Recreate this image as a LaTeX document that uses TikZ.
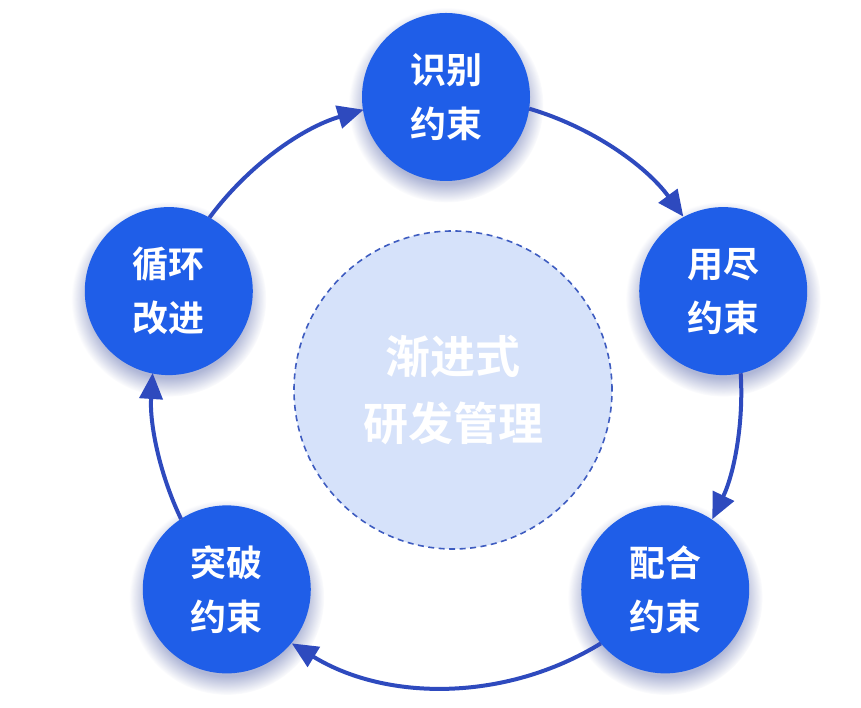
\documentclass[tikz,border=0pt]{standalone}
\usepackage{fontspec}
\setmainfont{Noto Sans CJK SC}[BoldFont={Noto Sans CJK SC Bold}]
\usepackage{tikz}
\usetikzlibrary{arrows.meta, positioning, shadows, fadings}
\definecolor{stageblue}{RGB}{31,94,232}
\definecolor{arrowblue}{RGB}{46,74,190}
\definecolor{corefill}{RGB}{214,226,250}
\definecolor{coreline}{RGB}{62,92,192}
\tikzset{
  stage/.style={
    circle,
    fill=stageblue,
    minimum size=168pt,
    inner sep=0pt,
    outer sep=0pt,
    align=center,
    text=white,
    font=\fontsize{36}{54}\selectfont\bfseries,
    general shadow={shadow scale=1.16, shadow yshift=-7pt,
      fill=arrowblue!60!gray, opacity=0.45,
      path fading=circle with fuzzy edge 20 percent},
  },
  core/.style={
    circle,
    fill=corefill,
    draw=coreline,
    dash pattern=on 6pt off 4.5pt,
    line width=1.6pt,
    minimum size=318pt,
    inner sep=0pt,
    align=center,
    text=white,
    font=\fontsize{45}{67}\selectfont\bfseries,
  },
  arrow/.style={
    -{Triangle[length=26pt,width=23pt]},
    line width=4pt,
    draw=arrowblue
  }
}

\begin{document}
\begin{tikzpicture}[x=1pt,y=1pt]
\useasboundingbox (0,0) rectangle (861,708);
\coordinate (ring) at (446,316);

% --- Cercle central ---
\node[core] (core) at (453,318) {渐进式\\研发管理};

% --- Les cinq etapes (sur l'anneau, rayon 295) ---
\path (ring) ++(90:295)  node[stage] (identify) {识别\\约束};
\path (ring) ++(20:295)  node[stage] (exploit)  {用尽\\约束};
\path (ring) ++(-42:295) node[stage] (subord)   {配合\\约束};
\path (ring) ++(222:295) node[stage] (elevate)  {突破\\约束};
\path (ring) ++(160:295) node[stage] (repeat)   {循环\\改进};

% --- Fleches sur l'anneau ---
\draw[arrow] (identify.-8.2)   arc[start angle=73.6,  end angle=36.4,   radius=295];
\draw[arrow] (exploit.-78.2)   arc[start angle=3.6,   end angle=-25.6,  radius=295];
\draw[arrow] (subord.-140.2)   arc[start angle=-58.4, end angle=-121.6, radius=295];
\draw[arrow] (elevate.123.8)   arc[start angle=205.6, end angle=176.4,  radius=295];
\draw[arrow] (repeat.61.8)     arc[start angle=143.6, end angle=106.4,  radius=295];

\end{tikzpicture}
\end{document}
